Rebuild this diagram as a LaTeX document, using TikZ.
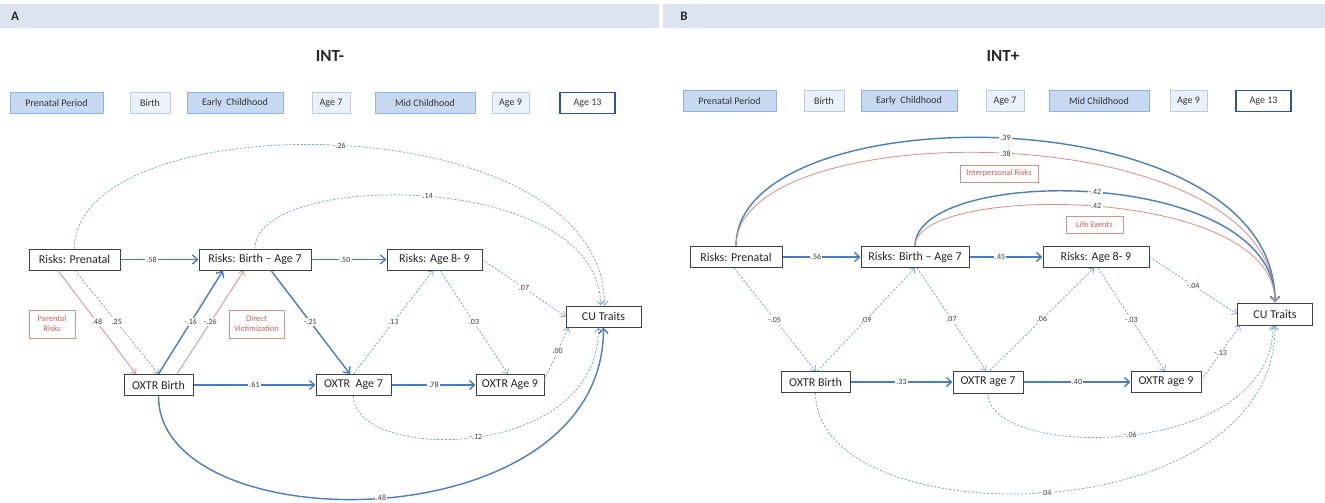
\documentclass[tikz,border=0pt]{standalone}
\usepackage{fontspec}
\setmainfont{Carlito}
\usetikzlibrary{arrows.meta}
\definecolor{band}{HTML}{DCE4F0}
\definecolor{tdark}{HTML}{C6D9F1}
\definecolor{tdarkb}{HTML}{8DB3E2}
\definecolor{tlight}{HTML}{EBF1FA}
\definecolor{tlightb}{HTML}{B8CCE4}
\definecolor{agebd}{HTML}{2F5597}
\definecolor{solB}{HTML}{4A7EBB}
\definecolor{dshB}{HTML}{7AA3D3}
\definecolor{redL}{HTML}{D9918C}
\definecolor{redT}{HTML}{C9605B}
\definecolor{labT}{HTML}{3A3A3A}
\begin{document}
\begin{tikzpicture}[x=1pt,y=-1pt,
  box/.style={draw=black!75, line width=1pt, fill=white, minimum height=21pt, inner sep=0pt, font=\fontsize{12}{14}\selectfont, text=black!85},
  tl/.style={minimum height=21pt, inner sep=0pt, font=\fontsize{10}{12}\selectfont, text=black!80, line width=0.8pt},
  tdk/.style={tl, fill=tdark, draw=tdarkb},
  tlt/.style={tl, fill=tlight, draw=tlightb},
  tag/.style={tl, fill=white, draw=agebd, line width=1.1pt},
  rbox/.style={draw=redL, line width=0.8pt, fill=white, inner sep=0pt, font=\fontsize{8.5}{10}\selectfont, text=redT, align=center},
  lab/.style={fill=white, inner sep=1.2pt, font=\fontsize{8}{9}\selectfont, text=labT},
  sol/.style={draw=solB, line width=1.4pt, -{Straight Barb[length=5pt,width=9pt]}},
  dsh/.style={draw=dshB, line width=0.75pt, dash pattern=on 2.2pt off 1.6pt, -{Straight Barb[length=4pt,width=7pt]}},
  redline/.style={draw=redL, line width=0.85pt, -{Straight Barb[length=4pt,width=7pt]}},
  ttl/.style={font=\fontsize{17}{20}\selectfont\bfseries, text=black!85},
  plab/.style={font=\fontsize{13}{15}\selectfont\bfseries, text=black!85}
]
\useasboundingbox (0,0) rectangle (1325,503);
\fill[white] (0,0) rectangle (1325,503);
% header bands
\fill[band] (0,4) rectangle (659,28);
\fill[band] (663,4) rectangle (1325,28);
\node[plab] (labA) at (15,16) {A};
\node[plab] (labB) at (684,16) {B};
\node[ttl] (tA) at (330,56) {INT-};
\node[ttl] (tB) at (1003,56) {INT+};

% ---------- timeline A
\node[tdk, minimum width=93pt] (a1) at (56.5,103) {Prenatal Period};
\node[tlt, minimum width=40pt] (a2) at (150,103) {Birth};
\node[tdk, minimum width=96pt] (a3) at (235,103) {Early\ \ Childhood};
\node[tlt, minimum width=38pt] (a4) at (331,103) {Age 7};
\node[tdk, minimum width=100pt] (a5) at (425,103) {Mid Childhood};
\node[tlt, minimum width=37pt] (a6) at (510.5,103) {Age 9};
\node[tag, minimum width=55pt] (a7) at (587.5,103) {Age 13};
% ---------- timeline B
\node[tdk, minimum width=93pt] (b1) at (729.5,101) {Prenatal Period};
\node[tlt, minimum width=40pt] (b2) at (824,101) {Birth};
\node[tdk, minimum width=96pt] (b3) at (909,101) {Early\ \ Childhood};
\node[tlt, minimum width=38pt] (b4) at (1005,101) {Age 7};
\node[tdk, minimum width=100pt] (b5) at (1099,101) {Mid Childhood};
\node[tlt, minimum width=37pt] (b6) at (1188.5,101) {Age 9};
\node[tag, minimum width=55pt] (b7) at (1263.5,101) {Age 13};

% ---------- panel A nodes
\node[box, minimum width=91pt] (pA) at (74.5,259.5) {Risks: Prenatal};
\node[box, minimum width=112pt] (bA) at (255,259.5) {Risks: Birth -- Age 7};
\node[box, minimum width=95pt] (rA) at (434.5,259.5) {Risks: Age 8- 9};
\node[box, minimum width=75pt] (cuA) at (603.5,316.5) {CU Traits};
\node[box, minimum width=69pt] (obA) at (158.5,385) {OXTR Birth};
\node[box, minimum width=75pt] (o7A) at (353.5,385) {OXTR\ \ Age 7};
\node[box, minimum width=68pt] (o9A) at (510,385) {OXTR Age 9};
\node[rbox, minimum width=46pt, minimum height=28pt] (parA) at (52,324) {Parental\\Risks};
\node[rbox, minimum width=55pt, minimum height=28pt] (dvA) at (256.5,324) {Direct\\Victimization};

% ---------- panel A edges
\draw[dsh] (pA.north) .. controls +(0,-147) and +(0,-204) .. node[lab]{-.26} ([xshift=1pt]cuA.north);
\draw[dsh] (bA.north) .. controls +(0,-79) and +(0,-136) .. node[lab]{.14} ([xshift=-3pt]cuA.north);
\draw[dsh] (o7A.south) .. controls +(0,66.5) and +(0,135) .. node[lab]{-.12} ([xshift=-5pt]cuA.south);
\draw[sol] (obA.south) .. controls +(0,147.5) and +(0,216.5) .. node[lab]{.48} (cuA.south);
\draw[sol] (pA) -- node[lab,pos=0.4]{.58} (bA);
\draw[sol] (bA) -- node[lab,pos=0.45]{.50} (rA);
\draw[redline] ([xshift=-16.5pt]pA.south) -- node[lab]{.48} ([xshift=-22.5pt]obA.north);
\draw[dsh] ([xshift=0.5pt]pA.south) -- node[lab]{.25} (obA.north);
\draw[sol] (obA.north) -- node[lab]{-.16} ([xshift=-32pt]bA.south);
\draw[redline] ([xshift=18.5pt]obA.north) -- node[lab]{-.26} ([xshift=-11pt]bA.south);
\draw[sol] ([xshift=16pt]bA.south) -- node[lab]{-.21} ([xshift=-3.5pt]o7A.north);
\draw[sol] (obA) -- node[lab]{.61} (o7A);
\draw[sol] (o7A) -- node[lab]{.78} (o9A);
\draw[dsh] (o7A.north) -- node[lab]{.13} ([xshift=-1.5pt]rA.south);
\draw[dsh] ([xshift=5.5pt]rA.south) -- node[lab]{.03} ([xshift=-2pt]o9A.north);
\draw[dsh] (rA.east) -- node[lab]{.07} (cuA.west);
\draw[dsh] ([yshift=5pt]o9A.east) -- node[lab,pos=0.55]{.00} ([xshift=3pt]cuA.south west);

% ---------- panel B nodes
\node[box, minimum width=92pt] (pB) at (736,257) {Risks: Prenatal};
\node[box, minimum width=108pt] (bB) at (915,257) {Risks: Birth -- Age 7};
\node[box, minimum width=106pt] (rB) at (1096,257) {Risks: Age 8- 9};
\node[box, minimum width=75pt, minimum height=22pt] (cuB) at (1275,314) {CU Traits};
\node[box, minimum width=69pt] (obB) at (815.5,382) {OXTR Birth};
\node[box, minimum width=70pt, minimum height=22pt] (o7B) at (988,382) {OXTR age 7};
\node[box, minimum width=70pt] (o9B) at (1166,382) {OXTR age 9};
\node[rbox, minimum width=78pt, minimum height=17pt] (ipB) at (999,173.5) {Interpersonal Risks};
\node[rbox, minimum width=57pt, minimum height=17pt] (leB) at (1094.5,224.5) {Life Events};

% ---------- panel B edges
\draw[sol] (pB.north) .. controls +(0,-153) and +(0,-209.5) .. node[lab]{.39} (cuB.north);
\draw[redline] (pB.north) .. controls +(0,-133) and +(0,-189.5) .. node[lab]{.38} (cuB.north);
\draw[sol] (bB.north) .. controls +(0,-81) and +(0,-137.5) .. node[lab]{-.42} (cuB.north);
\draw[redline] (bB.north) .. controls +(0,-62.5) and +(0,-119) .. node[lab]{-.42} (cuB.north);
\draw[dsh] (o7B.south) .. controls +(0,67) and +(0,135) .. node[lab]{-.06} ([xshift=-2pt]cuB.south);
\draw[dsh] (obB.south) .. controls +(0,144.5) and +(0,211.5) .. node[lab]{-.04} (cuB.south);
\draw[sol] (pB) -- node[lab,pos=0.43]{.56} (bB);
\draw[sol] (bB) -- node[lab,pos=0.42]{.45} (rB);
\draw[dsh] ([xshift=-2pt]pB.south) -- node[lab]{-.05} (obB.north);
\draw[dsh] ([xshift=2pt]obB.north) -- node[lab]{.09} (bB.south);
\draw[dsh] ([xshift=2pt]bB.south) -- node[lab]{.07} ([xshift=-2pt]o7B.north);
\draw[dsh] ([xshift=2pt]o7B.north) -- node[lab]{.06} ([xshift=-2pt]rB.south);
\draw[dsh] ([xshift=2pt]rB.south) -- node[lab]{-.03} ([xshift=-1pt]o9B.north);
\draw[dsh] (rB.east) -- node[lab]{-.04} (cuB.west);
\draw[dsh] ([yshift=2pt]o9B.east) -- node[lab,pos=0.5]{-.13} ([xshift=3pt]cuB.south west);
\draw[sol] (obB) -- node[lab]{.33} (o7B);
\draw[sol] (o7B) -- node[lab]{.40} (o9B);
\end{tikzpicture}
\end{document}
